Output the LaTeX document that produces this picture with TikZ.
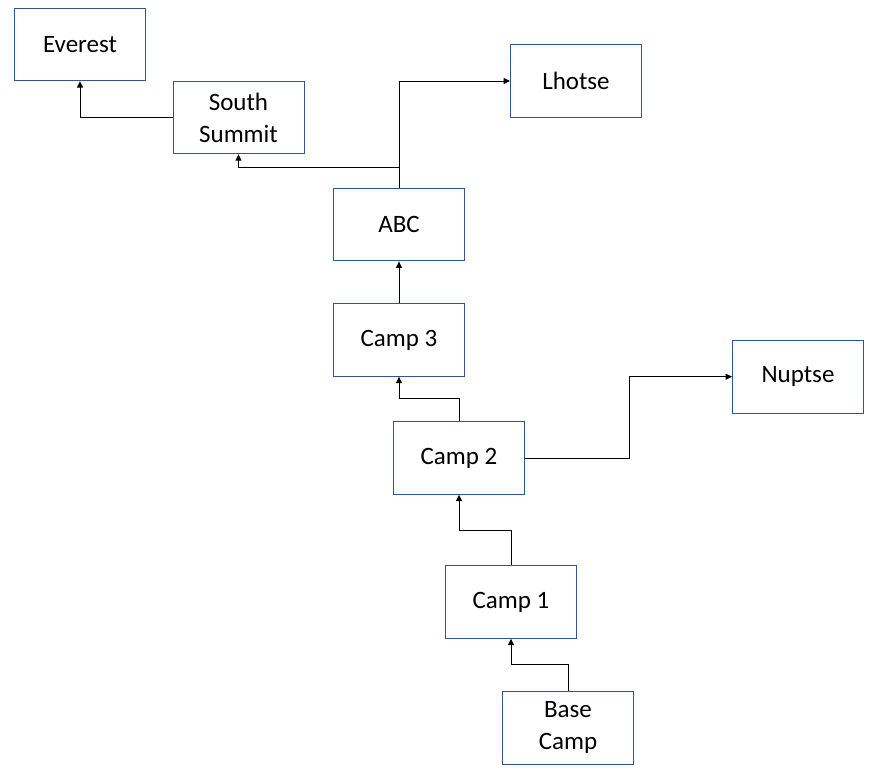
\documentclass[tikz,border=0pt]{standalone}
\usepackage{fontspec}
\setmainfont{Carlito}
\usetikzlibrary{arrows.meta}
\definecolor{boxblue}{RGB}{47,85,151}

\begin{document}
\begin{tikzpicture}[x=1pt, y=-1pt, >={Triangle[length=6.5pt,width=6pt]},
	camp/.style={draw=boxblue, line width=0.9pt, minimum width=131pt, minimum height=72.5pt, inner sep=0pt, align=center, font=\fontsize{25}{32}\selectfont},
	link/.style={->, line width=0.9pt}]
	\useasboundingbox (0,0) rectangle (888,775);
	% boxes
	\node[camp] (everest) at (80,44.5) {Everest};
	\node[camp] (south) at (238.5,117.5) {South\\Summit};
	\node[camp] (lhotse) at (576,81) {Lhotse};
	\node[camp] (abc) at (399,224.7) {ABC};
	\node[camp] (campthree) at (399,340) {Camp 3};
	\node[camp] (nuptse) at (798,376.7) {Nuptse};
	\node[camp] (camptwo) at (459,458) {Camp 2};
	\node[camp] (campone) at (511,602) {Camp 1};
	\node[camp] (base) at (568,727.7) {Base\\Camp};
	% routes
	\draw[link] (base.north) -- ++(0,-27) -| (campone.south);
	\draw[link] (campone.north) -- ++(0,-35) -| (camptwo.south);
	\draw[link] (camptwo.north) -- ++(0,-22.6) -| (campthree.south);
	\draw[link] (camptwo.east) -- ++(104,0) |- (nuptse.west);
	\draw[link] (campthree.north) -- (abc.south);
	\draw[link] (abc.north) |- (lhotse.west);
	\draw[link] (abc.north) -- ++(0,-20.5) -| (south.south);
	\draw[link] (south.west) -| (everest.south);
\end{tikzpicture}
\end{document}
